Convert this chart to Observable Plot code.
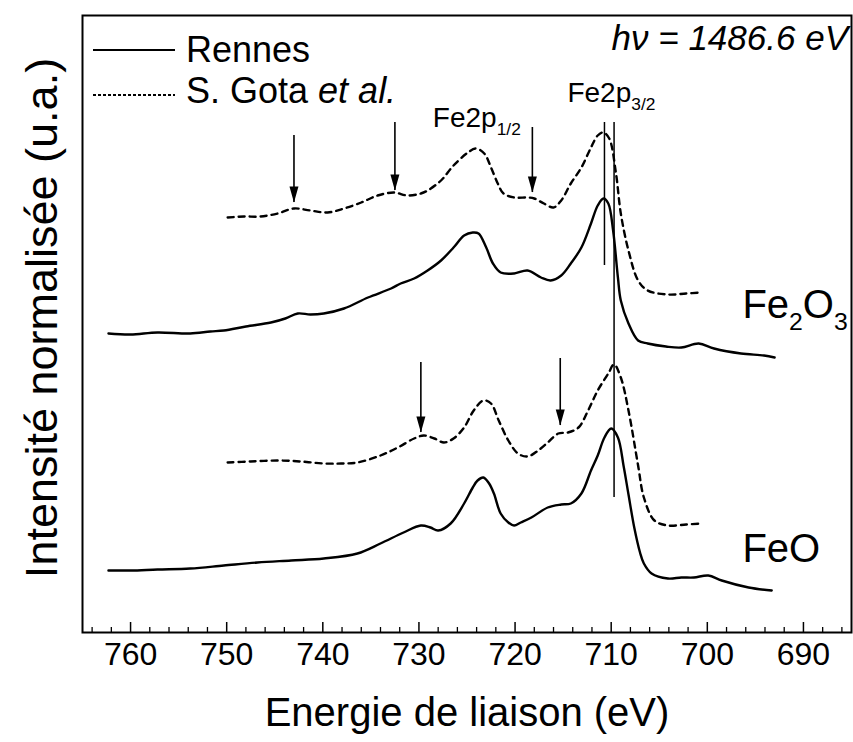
<!DOCTYPE html>
<html>
<head>
<meta charset="utf-8">
<script src="https://cdn.jsdelivr.net/npm/d3@7"></script>
<script src="https://cdn.jsdelivr.net/npm/@observablehq/plot@0.6"></script>
<style>
  html, body { margin: 0; padding: 0; background: #fff; }
</style>
</head>
<body>
<div id="chart"></div>
<script>
// ---------- DATA (binding energy in eV, normalised intensity in a.u. with vertical offsets) ----------
const fe2o3RennesE = [762.3, 760.0, 757.2, 753.8, 751.7, 750.3, 748.0, 745.4, 743.9, 742.6, 741.3, 739.9, 737.8, 735.3, 732.9, 731.9, 730.5, 729.1, 727.7, 726.4, 725.3, 724.4, 723.8, 723.0, 722.3, 721.5, 720.1, 718.7, 717.3, 716.3, 715.2, 714.2, 713.1, 712.1, 711.4, 710.8, 710.3, 709.8, 709.3, 709.0, 708.2, 707.2, 706.2, 704.3, 702.7, 700.9, 699.3, 696.5, 694.1, 693.0];
const fe2o3RennesI = [2.99, 2.98, 3.00, 2.99, 3.01, 3.02, 3.06, 3.10, 3.14, 3.19, 3.18, 3.19, 3.24, 3.35, 3.44, 3.49, 3.54, 3.62, 3.72, 3.85, 3.97, 4.00, 3.99, 3.85, 3.69, 3.60, 3.59, 3.62, 3.55, 3.52, 3.57, 3.69, 3.85, 4.09, 4.27, 4.34, 4.29, 4.02, 3.55, 3.32, 3.09, 2.92, 2.89, 2.86, 2.85, 2.89, 2.84, 2.79, 2.77, 2.75];

const fe2o3GotaE = [749.9, 748.2, 746.5, 744.7, 743.0, 741.3, 739.5, 737.8, 736.0, 734.3, 732.6, 731.2, 729.8, 729.1, 727.7, 726.4, 724.9, 724.1, 723.2, 722.5, 721.8, 721.2, 720.1, 718.7, 718.0, 717.0, 716.0, 715.2, 714.2, 713.1, 712.1, 711.4, 710.8, 710.2, 709.5, 709.0, 708.2, 707.2, 706.2, 704.1, 702.2, 700.6];
const fe2o3GotaI = [4.15, 4.16, 4.16, 4.19, 4.24, 4.22, 4.20, 4.24, 4.30, 4.37, 4.40, 4.37, 4.39, 4.42, 4.52, 4.67, 4.80, 4.84, 4.79, 4.65, 4.49, 4.39, 4.35, 4.35, 4.34, 4.29, 4.25, 4.32, 4.49, 4.65, 4.85, 4.97, 5.00, 4.94, 4.59, 4.19, 3.82, 3.52, 3.42, 3.38, 3.39, 3.40];

const feoRennesE = [762.3, 760.0, 757.2, 753.8, 750.3, 746.8, 743.3, 739.9, 736.4, 734.0, 731.6, 729.8, 728.8, 728.0, 726.7, 725.3, 724.4, 723.9, 723.3, 722.7, 722.2, 721.5, 720.7, 720.1, 719.4, 718.3, 716.6, 715.2, 714.2, 713.1, 712.1, 711.4, 710.7, 710.0, 709.3, 708.7, 708.2, 707.6, 707.0, 706.6, 705.8, 704.1, 702.7, 701.4, 699.9, 698.5, 695.7, 693.3];
const feoRennesI = [0.62, 0.62, 0.63, 0.64, 0.67, 0.70, 0.72, 0.74, 0.79, 0.89, 1.00, 1.07, 1.05, 1.02, 1.09, 1.29, 1.45, 1.52, 1.55, 1.49, 1.39, 1.19, 1.10, 1.07, 1.10, 1.15, 1.25, 1.28, 1.29, 1.39, 1.62, 1.77, 1.95, 2.04, 1.95, 1.66, 1.38, 1.05, 0.80, 0.69, 0.59, 0.54, 0.55, 0.55, 0.57, 0.52, 0.45, 0.42];

const feoGotaE = [749.9, 747.5, 744.7, 742.3, 739.9, 738.1, 736.4, 734.0, 732.2, 730.5, 729.5, 728.4, 727.4, 726.4, 725.3, 724.3, 723.3, 722.5, 721.7, 720.7, 719.7, 718.7, 717.6, 716.6, 715.5, 714.5, 713.4, 712.4, 711.4, 710.3, 709.7, 709.0, 708.2, 707.2, 706.6, 705.5, 704.1, 702.2, 700.6];
const feoGotaI = [1.70, 1.71, 1.72, 1.71, 1.69, 1.69, 1.70, 1.77, 1.85, 1.94, 1.97, 1.94, 1.90, 1.94, 2.05, 2.22, 2.32, 2.29, 2.12, 1.92, 1.79, 1.76, 1.82, 1.90, 1.99, 2.00, 2.05, 2.22, 2.42, 2.59, 2.68, 2.55, 2.22, 1.67, 1.35, 1.12, 1.07, 1.08, 1.09];

// satellite arrows: position, start (top) and tip intensity
const arrowE   = [743.0, 732.5, 718.2, 729.8, 715.3];
const arrowTop = [4.97, 5.10, 5.05, 2.70, 2.74];
const arrowTip = [4.30, 4.42, 4.40, 2.00, 2.07];

// Fe2p3/2 reference lines
const peakE    = [710.7, 709.7];
const peakLow  = [3.67, 1.35];
const peakHigh = [5.10, 5.10];

const majorTicks = [760, 750, 740, 730, 720, 710, 700, 690];
const minorTicks = [764, 762, 758, 756, 754, 752, 748, 746, 744, 742, 738, 736, 734, 732, 728, 726, 724, 722, 718, 716, 714, 712, 708, 706, 704, 702, 698, 696, 694, 692, 688, 686];

const xLabel = "Energie de liaison (eV)";
const yLabel = "Intensité normalisée (u.a.)";
const legendNames = ["Rennes", "S. Gota"];
const photonText = "hν = 1486.6 eV";

// ---------- BUILD ----------
const FONT = "'Liberation Sans', Arial, Helvetica, sans-serif";
const W = 853, H = 742, mL = 82, mR = 2, mT = 15, mB = 110;
const frameH = H - mT - mB;

const zip = (E, I) => E.map((e, i) => ({E: e, I: I[i]}));
const rennesFe2O3 = zip(fe2o3RennesE, fe2o3RennesI);
const gotaFe2O3 = zip(fe2o3GotaE, fe2o3GotaI);
const rennesFeO = zip(feoRennesE, feoRennesI);
const gotaFeO = zip(feoGotaE, feoGotaI);
const arrows = arrowE.map((e, i) => ({E: e, top: arrowTop[i], tip: arrowTip[i]}));
const peaks = peakE.map((e, i) => ({E: e, lo: peakLow[i], hi: peakHigh[i]}));

const headDown = {
  draw(ctx) {
    ctx.moveTo(0, 0);
    ctx.lineTo(-4.5, -16);
    ctx.lineTo(4.5, -16);
    ctx.closePath();
  }
};

function richText(g, x, y, parts, size, italic) {
  const t = g.append("text").attr("x", x).attr("y", y).attr("font-size", size)
    .attr("text-anchor", "start")
    .attr("font-style", italic ? "italic" : null);
  for (const p of parts) {
    const s = t.append("tspan").text(p.t);
    if (p.sub) s.attr("font-size", size * 0.62).attr("dy", size * 0.3);
    if (p.up) s.attr("dy", -size * 0.3);
    if (p.it) s.attr("font-style", "italic");
  }
  return t;
}

function annotations(index, scales) {
  const x = scales.x, y = scales.y;
  const g = d3.create("svg:g").attr("font-family", FONT).attr("fill", "black")
    .attr("text-anchor", "start");
  // legend
  g.append("line").attr("x1", 93).attr("x2", 175).attr("y1", 50).attr("y2", 50)
    .attr("stroke", "black").attr("stroke-width", 2);
  g.append("line").attr("x1", 93).attr("x2", 175).attr("y1", 95).attr("y2", 95)
    .attr("stroke", "black").attr("stroke-width", 1.8).attr("stroke-dasharray", "3,2");
  richText(g, 186, 62, [{t: legendNames[0]}], 36);
  richText(g, 186, 103, [{t: legendNames[1] + " "}, {t: "et al.", it: true}], 36);
  // photon energy
  g.append("text").attr("x", 848).attr("y", 50).attr("text-anchor", "end")
    .attr("font-size", 35).attr("font-style", "italic").text(photonText);
  // peak labels
  richText(g, x(728.5), y(5.05), [{t: "Fe2p"}, {t: "1/2", sub: true}], 28);
  richText(g, x(714.5), y(5.30), [{t: "Fe2p"}, {t: "3/2", sub: true}], 28);
  // compound labels
  richText(g, x(696.3), y(3.14), [{t: "Fe"}, {t: "2", sub: true}, {t: "O", up: true}, {t: "3", sub: true}], 40);
  richText(g, x(696.3), y(0.70), [{t: "FeO"}], 40);
  return g.node();
}

const chart = Plot.plot({
  width: W, height: H,
  marginLeft: mL, marginRight: mR, marginTop: mT, marginBottom: mB,
  style: {fontFamily: FONT, background: "white", color: "black", overflow: "visible"},
  x: {domain: [765, 685], axis: null},
  y: {domain: [0, 6.17], axis: null},
  marks: [
    Plot.line(rennesFe2O3, {x: "E", y: "I", stroke: "black", strokeWidth: 2.4, curve: "catmull-rom"}),
    Plot.line(rennesFeO, {x: "E", y: "I", stroke: "black", strokeWidth: 2.4, curve: "catmull-rom"}),
    Plot.line(gotaFe2O3, {x: "E", y: "I", stroke: "black", strokeWidth: 2.4, strokeDasharray: "6,5", curve: "catmull-rom"}),
    Plot.line(gotaFeO, {x: "E", y: "I", stroke: "black", strokeWidth: 2.4, strokeDasharray: "6,5", curve: "catmull-rom"}),
    Plot.ruleX(peaks, {x: "E", y1: "lo", y2: "hi", stroke: "black", strokeWidth: 1.5}),
    Plot.ruleX(arrows, {x: "E", y1: "top", y2: "tip", stroke: "black", strokeWidth: 1.6}),
    Plot.dot(arrows, {x: "E", y: "tip", symbol: headDown, fill: "black", stroke: "none", r: 5}),
    Plot.tickX(majorTicks, {x: d => d, insetTop: frameH - 10, stroke: "black", strokeWidth: 1.5}),
    Plot.tickX(minorTicks, {x: d => d, insetTop: frameH - 5, stroke: "black", strokeWidth: 1.3}),
    Plot.text(majorTicks, {x: d => d, frameAnchor: "bottom", dy: 32, text: d => String(d), fontSize: 32, fill: "black"}),
    Plot.text([xLabel], {frameAnchor: "bottom", dy: 93, text: d => d, fontSize: 40, fill: "black"}),
    Plot.text([yLabel], {frameAnchor: "left", textAnchor: "middle", dx: -40, dy: -6, rotate: -90, text: d => d, fontSize: 45, fill: "black"}),
    Plot.frame({stroke: "black", strokeWidth: 2}),
    annotations
  ]
});
document.getElementById("chart").appendChild(chart);
</script>
</body>
</html>
